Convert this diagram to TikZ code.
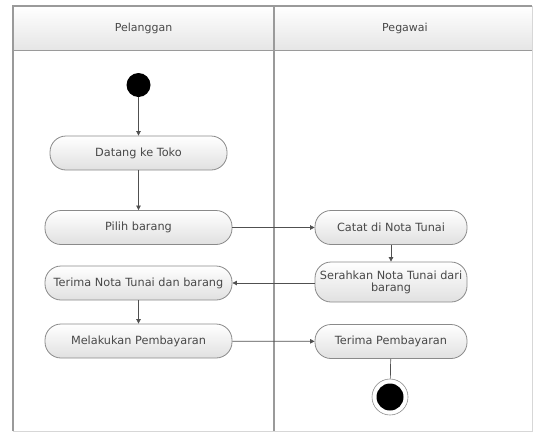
\documentclass[tikz,border=0pt]{standalone}
\usepackage{fontspec}
\setmainfont{DejaVu Sans}
\usetikzlibrary{arrows.meta}
\definecolor{txt}{HTML}{484848}
\definecolor{edge}{HTML}{8A8A8A}
\definecolor{lane}{HTML}{9A9A9A}
\definecolor{flow}{HTML}{505050}
\tikzset{
  act/.style={draw=edge, line width=0.8pt, rounded corners=16pt,
    top color=white, bottom color=black!12, text=txt,
    font=\fontsize{11.3}{12}\selectfont, align=center,
    inner sep=0pt, minimum height=34pt},
  lanetitle/.style={text=txt, font=\fontsize{11}{12}\selectfont},
  flowline/.style={draw=flow, line width=0.7pt,
    -{Triangle[length=4.5pt,width=4.5pt]}},
  plainline/.style={draw=flow, line width=0.7pt},
}
\begin{document}
\begin{tikzpicture}[x=1pt,y=-1pt]
\useasboundingbox (0,0) rectangle (534,434);
% swimlane frame and header band
\shade[top color=white, bottom color=black!10] (13,6) rectangle (532,50);
\draw[lane, line width=1.2pt] (13,431) -- (13,6) -- (532,6);
\draw[lane!40, line width=0.6pt] (532,6) -- (532,431) -- (13,431);
\draw[lane, line width=0.8pt] (13,50) -- (532,50);
\draw[lane, line width=1.2pt] (274,6) -- (274,431);
\node[lanetitle] (h1) at (143.5,28) {Pelanggan};
\node[lanetitle] (h2) at (405,28) {Pegawai};

% start and end states
\node[circle, fill=black, inner sep=0pt, minimum size=24pt] (start) at (138.5,85) {};
\node[circle, draw=black!45, line width=0.6pt, fill=white, inner sep=0pt, minimum size=36pt] (stop) at (390,397) {};
\node[circle, fill=black, inner sep=0pt, minimum size=27pt] (stopdot) at (390,397) {};

% actions
\node[act, minimum width=177pt] (datang) at (138.5,153) {Datang ke Toko};
\node[act, minimum width=187pt] (pilih) at (138.5,227.5) {Pilih barang};
\node[act, minimum width=187pt] (terimanota) at (138.5,283) {Terima Nota Tunai dan barang};
\node[act, minimum width=187pt] (bayar) at (138.5,341) {Melakukan Pembayaran};
\node[act, minimum width=152pt] (catat) at (391,227.5) {Catat di Nota Tunai};
\node[act, minimum width=152pt, minimum height=40pt] (serah) at (391,282) {Serahkan Nota Tunai dari\\barang};
\node[act, minimum width=152pt] (terimabayar) at (391,341.5) {Terima Pembayaran};

% control flow
\draw[flowline] (start) -- (datang);
\draw[flowline] (datang) -- (pilih);
\draw[flowline] (pilih) -- (catat);
\draw[flowline] (catat) -- (serah);
\draw[flowline] (serah.west |- terimanota) -- (terimanota);
\draw[flowline] (terimanota) -- (bayar);
\draw[flowline] (bayar) -- (terimabayar);
\draw[plainline] (terimabayar) -- (stop);
\end{tikzpicture}
\end{document}
